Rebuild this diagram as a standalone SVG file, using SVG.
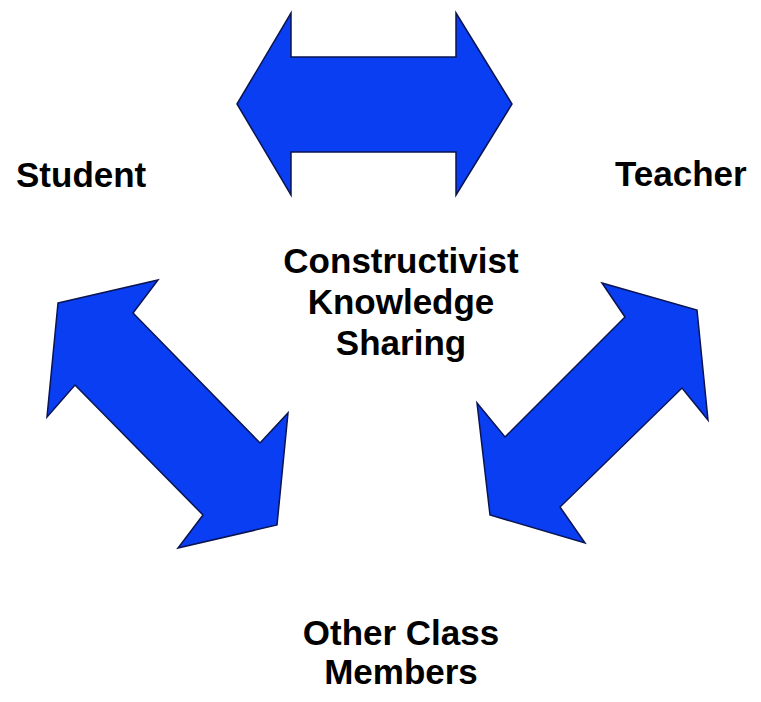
<svg xmlns="http://www.w3.org/2000/svg" width="761" height="702" viewBox="0 0 761 702">
<style>
.arrow{fill:#0a3ef2;stroke:#0a1450;stroke-width:1.5;stroke-linejoin:miter}
.lbl{font-family:"Liberation Sans",Arial,sans-serif;font-weight:bold;font-size:35px;fill:#000}
.c{text-anchor:middle}
</style>
<rect width="761" height="702" fill="#fff"/>
<g id="connectors">
<polygon id="arrow-top" class="arrow" points="237,104 291,13 291,57 456,57 456,13 512,104 456,195 456,152 291,152 291,195"/>
<polygon id="arrow-left" class="arrow" points="58,303 158,280 133,313 260,443 288,413 277,525 178,548 203,515 75,385 47,417"/>
<polygon id="arrow-right" class="arrow" points="602,283 697,310 708,420 682,388 560,507 585,543 490,515 477,403 505,437 625,317"/>
</g>
<g id="student"><text class="lbl" x="16" y="187">Student</text></g>
<g id="teacher"><text class="lbl" x="615" y="186">Teacher</text></g>
<g id="center"><text class="lbl c" x="401" y="273">Constructivist</text><text class="lbl c" x="401" y="314">Knowledge</text><text class="lbl c" x="401" y="355">Sharing</text></g>
<g id="others"><text class="lbl c" x="401" y="645">Other Class</text><text class="lbl c" x="401" y="684">Members</text></g>
</svg>
